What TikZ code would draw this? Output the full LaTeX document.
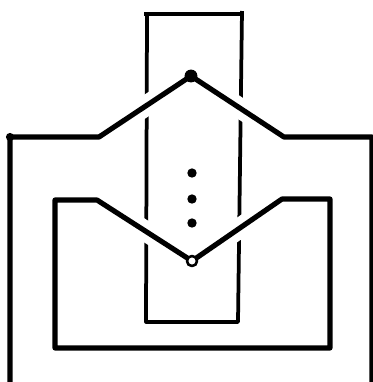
\documentclass[tikz,border=0pt]{standalone}
\begin{document}
\begin{tikzpicture}[x=0.03cm, y=-0.03cm, line join=round]
	\tikzset{wire/.style={draw=white, double=black, double distance=4.4pt, line width=6.5pt},
		stripline/.style={line width=3.2pt}}
	\useasboundingbox (0,0) rectangle (373,382);
	% the strip, passing under both wires
	\coordinate (stl) at (147,14);
	\coordinate (str) at (242,11);
	\coordinate (sbl) at (146,322);
	\coordinate (sbr) at (238,322);
	\draw[stripline] (144,14)--(242,14);
	\draw[stripline] (stl)--(sbl)--(sbr)--(str);
	% outer wire
	\coordinate (top) at (191,76);
	\draw[wire] (10,382)--(10,137)--(99,137)--(top)--(284,137)--(372,137)--(372,382);
	% inner wire
	\coordinate (bot) at (192,261);
	\draw[wire] (55,200)--(97,200)--(bot)--(282,199)--(330,199)--(330,348)--(55,348)--cycle;
	% points
	\fill (10,137) circle (3.5pt);
	\fill (top) circle (5.5pt);
	\foreach \y in {173, 199, 223}
		\fill (192,\y) circle (4pt);
	\draw[line width=2.2pt, fill=white] (bot) circle (4.3pt);
\end{tikzpicture}
\end{document}
